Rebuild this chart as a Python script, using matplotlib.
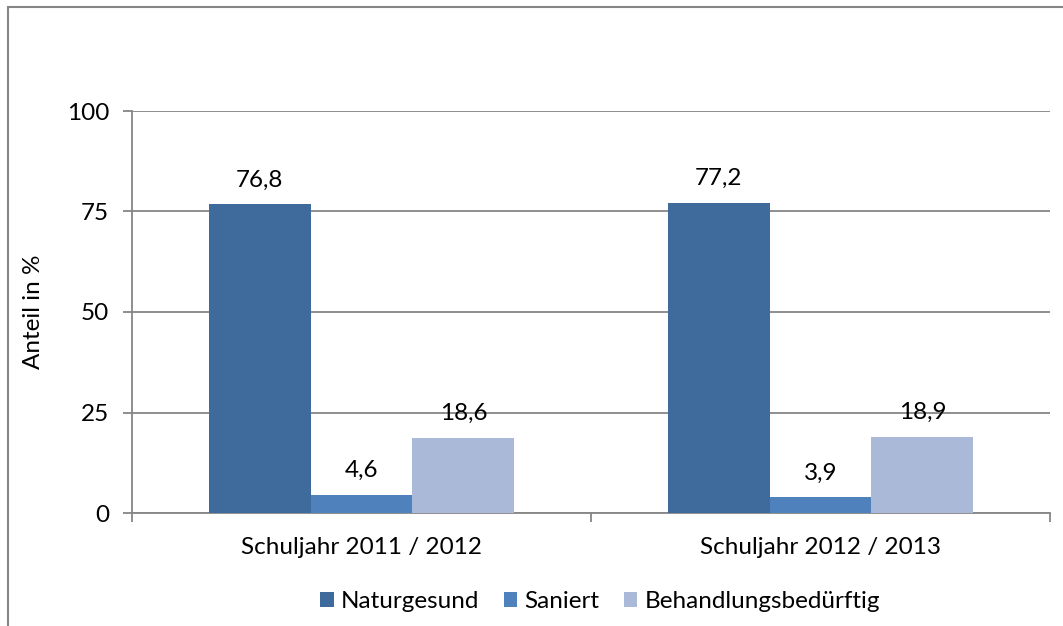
import matplotlib.pyplot as plt
import numpy as np
from matplotlib.patches import Rectangle

plt.rcParams["font.family"] = ["Lato", "DejaVu Sans"]

categories = ["Schuljahr 2011 / 2012", "Schuljahr 2012 / 2013"]
series = ["Naturgesund", "Saniert", "Behandlungsbedürftig"]
naturgesund = [76.8, 77.2]
saniert = [4.6, 3.9]
behandlung = [18.6, 18.9]
yticks = [0, 25, 50, 75, 100]

colors = ["#3F6A9C", "#4F81BD", "#AAB9D7"]
FS = 17.5

fig = plt.figure(figsize=(10.63, 6.26), dpi=100)
ax = fig.add_axes([132 / 1063, 1 - 513 / 626, (1050 - 132) / 1063, (513 - 111) / 626])

# outer chart frame (only top/left edges visible in the reference)
fig.patches.append(Rectangle((8 / 1063, -0.1), 1.2, 1 - 7 / 626 + 0.1,
                             transform=fig.transFigure, fill=False,
                             edgecolor="#868686", linewidth=1.5))

x = np.arange(len(categories))
width = 0.222
values = [naturgesund, saniert, behandlung]
for i, (name, vals, col) in enumerate(zip(series, values, colors)):
    pos = x + (i - 1) * width
    ax.bar(pos, vals, width, color=col, label=name, zorder=3)
    for p, v in zip(pos, vals):
        ax.annotate(f"{v:.1f}".replace(".", ","), (p, v), xytext=(0, 10),
                    textcoords="offset points", ha="center", va="bottom",
                    fontsize=FS)

ax.set_xlim(-0.5, 1.5)
ax.set_ylim(0, 100)
ax.set_yticks(yticks)
ax.set_yticklabels([str(t) for t in yticks], fontsize=FS)
ax.set_xticks(x)
ax.set_xticklabels(categories, fontsize=FS)
ax.set_xticks([-0.5, 0.5, 1.5], minor=True)
ax.tick_params(axis="x", which="major", length=0, pad=17)
ax.tick_params(axis="x", which="minor", length=6.5, color="#868686", width=1.3)
ax.tick_params(axis="y", length=6.5, color="#868686", width=1.3, pad=10)
ax.set_ylabel("Anteil in %", fontsize=FS, labelpad=16)

ax.grid(axis="y", color="#868686", linewidth=1.3, zorder=0)
ax.set_axisbelow(True)
for side in ("top", "right"):
    ax.spines[side].set_visible(False)
for side in ("left", "bottom"):
    ax.spines[side].set_color("#868686")
    ax.spines[side].set_linewidth(1.3)

ax.legend(loc="upper center", bbox_to_anchor=(0.51, -0.14), ncol=3,
          frameon=False, fontsize=FS, handlelength=0.55, handleheight=0.55,
          handletextpad=0.3, columnspacing=1.0)

fig.savefig("out.png", dpi=100)
